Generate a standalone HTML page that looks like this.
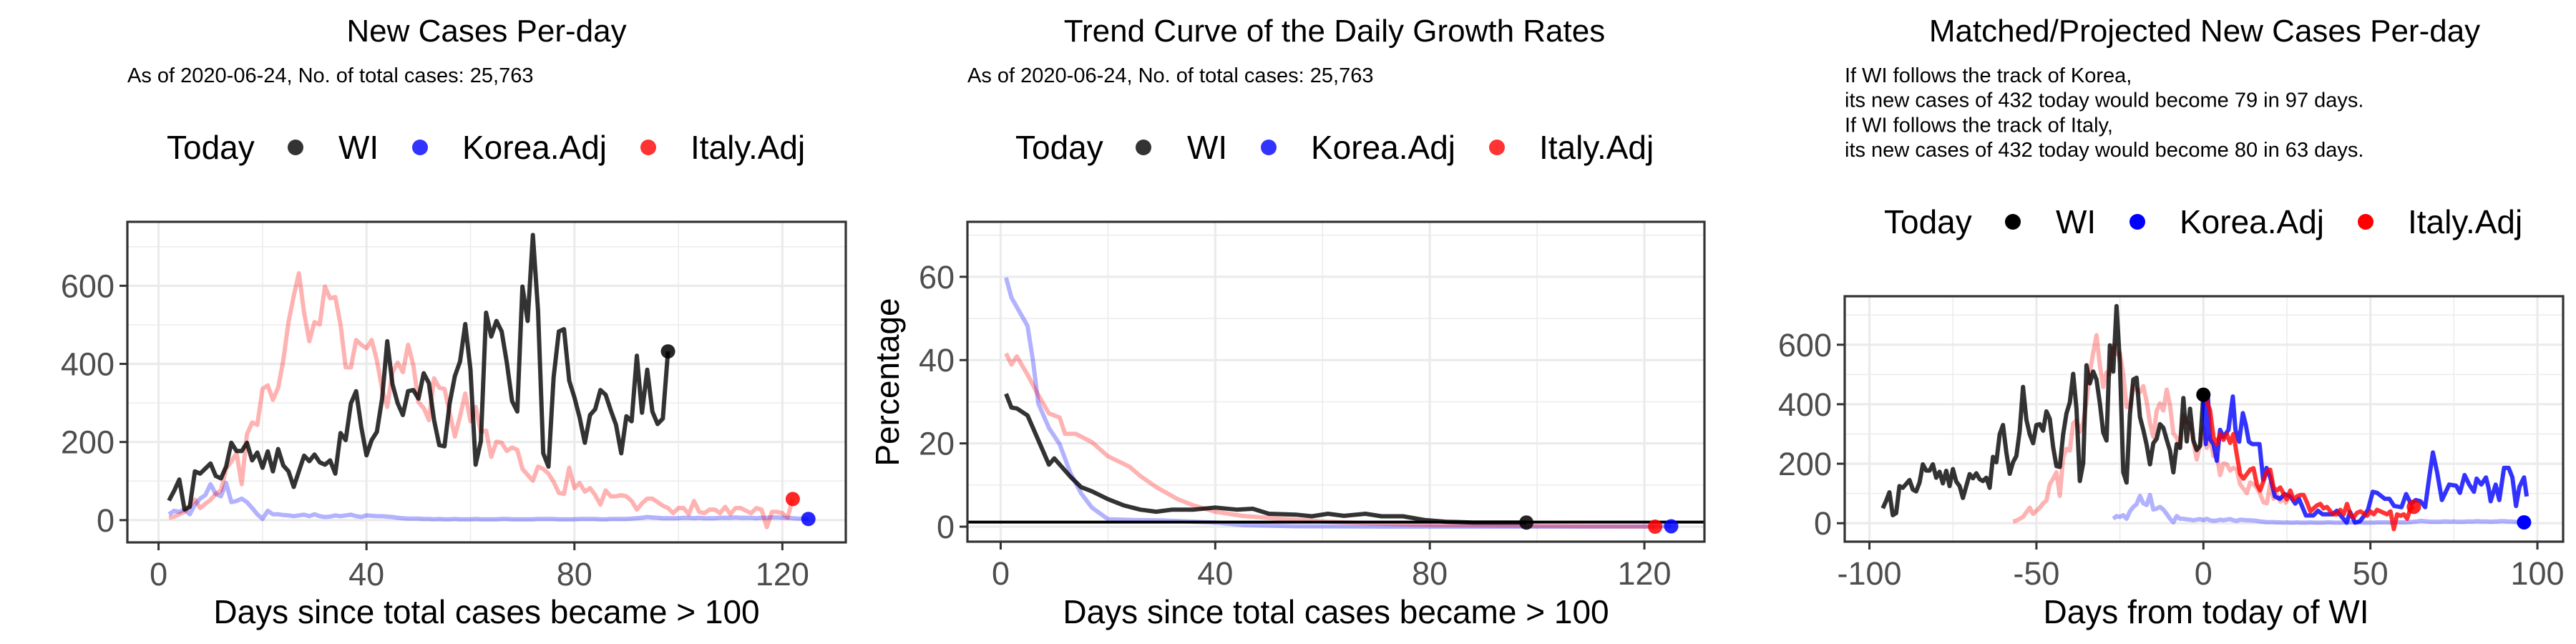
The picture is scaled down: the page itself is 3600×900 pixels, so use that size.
<!DOCTYPE html>
<html><head><meta charset="utf-8">
<style>
html,body{margin:0;padding:0;background:#fff;}
svg{display:block;font-family:"Liberation Sans",Arial,sans-serif;}
</style></head>
<body>
<svg id="chart" width="3600" height="900" viewBox="0 0 3600 900" xmlns="http://www.w3.org/2000/svg"></svg>
<script>
// ---------- DATA ----------
const wiStart = 2;
const wiCases = [50,75,104,27,34,125,119,132,145,113,107,137,198,177,177,198,153,173,134,176,125,182,140,125,85,125,165,151,168,148,142,153,119,223,205,299,330,238,166,205,226,311,458,348,299,269,330,333,311,376,351,256,192,189,299,369,406,502,385,142,202,531,470,510,483,403,305,278,598,510,730,537,171,137,366,483,489,357,314,263,198,269,284,333,321,281,244,171,266,253,421,275,385,278,246,260,432];
const italyStart = 2;
const italyCases = [6,9,15,21,37,52,31,42,52,67,76,131,150,171,92,220,250,244,336,345,308,339,409,507,574,632,531,458,507,501,598,568,571,501,391,391,461,449,440,461,409,336,290,379,403,379,449,397,302,287,256,363,339,336,275,214,266,324,253,290,226,229,162,201,198,177,186,180,131,116,101,137,131,119,98,70,67,134,82,95,73,82,64,40,76,61,61,64,61,49,27,43,55,55,46,37,31,18,31,31,15,49,21,18,27,27,18,34,15,31,31,24,18,31,27,-18,21,21,18,6,54];
const koreaStart = 2;
const koreaCases = [15,24,21,27,15,40,55,64,92,67,61,95,46,49,55,46,31,15,3,24,15,15,13,12,10,12,14,10,15,10,8,9,12,10,12,14,10,8,12,11,10,10,9,8,6,5,4,4,4,
3,3,2,3,2,2,3,2,2,2,3,2,2,2,2,3,3,2,2,2,2,2,3,3,3,3,2,2,2,2,3,3,3,3,2,2,3,3,3,3,
4,5,6,8,7,6,5,5,5,5,6,6,5,6,5,5,5,6,6,6,7,6,6,6,5,6,6,7,7,6,6,5,4,4,3];

const wiRateDays = [1,2,3,5,7,9,10,13,15,17,20,23,26,29,32,36,40,44,47,50,55,58,61,64,68,71,75,79,83,88,93,98];
const wiRate = [31.9,28.6,28.4,26.7,20.8,14.9,16.4,12,9.5,8.5,6.6,5.1,4.1,3.6,4.1,4.1,4.6,4.1,4.3,3.1,2.9,2.5,3.1,2.6,3.1,2.5,2.5,1.6,1.2,1.0,1.0,1.0];
const koreaRateDays = [1,2,5,6,7,9,11,13,15,17,20,25,30,40,45,55,70,90,110,125];
const koreaRate = [59.8,55,48.2,40,29.6,23.7,19.8,12.9,8,4.6,1.8,1.6,1.5,1.0,0.4,0.1,0,0,0,0.1];
const italyRateDays = [1,2,3,5,7,9,11,12,14,17,20,24,26,29,33,36,40,45,51,61,71,81,97,122];
const italyRate = [41.6,38.9,40.9,36.5,31.6,27.2,26.2,22.3,22.3,20.3,16.9,14.4,12.2,9.5,6.6,5.1,3.6,2.6,2.0,1.2,0.7,0.4,0.2,0];
const refLine = 1.1;

const wiShift = -98, italyShift = -59, koreaShift = -29, italyLightEndDay = 84;
const redProjX = [0,1,2,3,4,5,6,7,8,9,10,11,12,14,15,16,17,19,20,21,22,23,25,26,27,28,29,30,31,32,34,35,36,37,38,39,40,41,42,43,44,45,46,47,49,50,51,52,53,54,55,56,57,58,59,60,61,62,63];
const redProj = [432,410,380,290,265,300,280,300,270,300,230,165,150,180,185,130,110,175,180,120,110,120,80,110,80,90,95,95,70,40,60,65,50,55,40,30,30,45,30,65,30,20,35,40,25,40,30,45,40,35,30,40,-20,30,25,30,15,50,55];
const blueProjX = [0,0.7,1.4,2,3,4,5,6,7.5,8.8,9.6,10.7,11.8,12.7,13.6,14.6,16.8,17.9,18.9,20,21.4,22.9,24.3,26,27.5,28.6,30.7,32.9,34.3,35.7,38.6,40,41.4,42.9,43.9,45.4,46.8,48.2,49.3,50.7,52,54.3,55.7,57.1,59.3,60.7,62.1,63.6,65,66.4,67.5,68.7,70,71.4,73.6,75.7,76.8,78.2,79.6,81,81.8,83.2,84.6,85.4,86,87.5,88.6,90,91.4,92.5,93.6,94.6,96,96.8];
const blueProj = [432,266,418,282,266,210,314,290,314,426,314,274,370,330,274,266,266,146,186,154,90,82,98,90,66,82,26,26,42,30,30,42,22,2,38,2,6,26,46,106,102,82,82,58,54,98,66,78,74,54,146,238,170,78,130,126,102,162,130,106,150,130,154,118,74,130,78,186,186,154,58,122,154,90];

const legendLabels = ["WI","Korea.Adj","Italy.Adj"];
const p1Yticks=[0,200,400,600], p1Xticks=[0,40,80,120];
const p2Yticks=[0,20,40,60], p2Xticks=[0,40,80,120];
const p3Yticks=[0,200,400,600], p3Xticks=[-100,-50,0,50,100];

// ---------- HELPERS ----------
const NS="http://www.w3.org/2000/svg";
const svg=document.getElementById('chart');
function el(tag,attrs,parent){const e=document.createElementNS(NS,tag);for(const k in attrs)e.setAttribute(k,attrs[k]);(parent||svg).appendChild(e);return e;}
function txt(s,attrs,parent){const e=el('text',attrs,parent);e.textContent=s;return e;}

function makePanel(o){
  const g=el('g',{});
  
  
  const sx=v=>o.x0+(v-o.xmin)*(o.x1-o.x0)/(o.xmax-o.xmin);
  const sy=v=>o.y1-(v-o.ymin)*(o.y1-o.y0)/(o.ymax-o.ymin);
  const grid=el('g',{},g);
  
  
  o.yminor.forEach(v=>el('line',{x1:o.x0,x2:o.x1,y1:sy(v),y2:sy(v),stroke:'#ebebeb','stroke-width':1.5},grid));
  o.xminor.forEach(v=>el('line',{x1:sx(v),x2:sx(v),y1:o.y0,y2:o.y1,stroke:'#ebebeb','stroke-width':1.5},grid));
  o.yticks.forEach(v=>el('line',{x1:o.x0,x2:o.x1,y1:sy(v),y2:sy(v),stroke:'#ebebeb','stroke-width':3.2},grid));
  o.xticks.forEach(v=>el('line',{x1:sx(v),x2:sx(v),y1:o.y0,y2:o.y1,stroke:'#ebebeb','stroke-width':3.2},grid));
  o.sx=sx;o.sy=sy;o.g=g;
  return o;
}
function finishPanel(o){
  const g=o.g;
  const b=el('rect',{x:o.x0,y:o.y0,width:o.x1-o.x0,height:o.y1-o.y0,fill:'none',stroke:'#333','stroke-width':3.2},g);
  
  
  o.yticks.forEach(v=>{
    el('line',{x1:o.x0-11,x2:o.x0,y1:o.sy(v),y2:o.sy(v),stroke:'#333','stroke-width':3},g);
    const t=txt(String(v),{x:o.x0-18,y:o.sy(v)+16,'text-anchor':'end','font-size':45,fill:'#4d4d4d'},g);
    
    
  });
  o.xticks.forEach(v=>{
    el('line',{x1:o.sx(v),x2:o.sx(v),y1:o.y1,y2:o.y1+11,stroke:'#333','stroke-width':3},g);
    const t=txt(String(v),{x:o.sx(v),y:o.y1+60,'text-anchor':'middle','font-size':45,fill:'#4d4d4d'},g);
    
    
  });
}
function line(o,xs,ys,color,w,name){
  const pts=xs.map((x,i)=>o.sx(x).toFixed(1)+','+o.sy(ys[i]).toFixed(1)).join(' ');
  const p=el('polyline',{points:pts,fill:'none',stroke:color,'stroke-width':w,'stroke-linejoin':'round','stroke-linecap':'butt'},o.g);
  
  
}
function seq(start,n,shift){const a=[];for(let i=0;i<n;i++)a.push(start+i+(shift||0));return a;}
function dot(o,x,y,color,name){
  const c=el('circle',{cx:o.sx(x),cy:o.sy(y),r:10,fill:color},o.g);
  
  
}
function legend(x,y,pos,cols,name){
  const g=el('g',{});
  
  
  const t=txt('Today',{x:x,y:y,'font-size':46,fill:'#000'},g);
  
  
  legendLabels.forEach((lab,i)=>{
    const c=el('circle',{cx:pos[i][0],cy:y-16,r:11,fill:cols[i]},g);
    
    
    const l=txt(lab,{x:pos[i][1],y:y,'font-size':46,fill:'#000'},g);
    
    
  });
}
function title(s,x,y,size,anchor,name){
  const t=txt(s,{x:x,y:y,'font-size':size,'text-anchor':anchor,fill:'#000'});
  
  
  return t;
}

const BLK='rgba(0,0,0,0.8)', LBLUE='rgba(0,0,255,0.3)', LRED='rgba(255,0,0,0.3)';
const LW=6;

// ---------- PANEL 1 ----------
title('New Cases Per-day',680,58,44,'middle','panel1-title');
title('As of 2020-06-24, No. of total cases: 25,763',178,115,29,'start','panel1-subtitle');
legend(233,222,[[413,473],[587,646],[906,965]],['rgba(0,0,0,0.8)','rgba(0,0,255,0.8)','rgba(255,0,0,0.8)'],'panel1-legend');
const p1=makePanel({name:'panel1-new-cases',x0:178,x1:1182,y0:310,y1:758,xmin:-6,xmax:132.2,ymin:-57,ymax:763.7,
  yticks:p1Yticks,xticks:p1Xticks,yminor:[100,300,500,700],xminor:[20,60,100]});
line(p1,seq(koreaStart,koreaCases.length),koreaCases,LBLUE,LW,'korea-line');
line(p1,seq(italyStart,italyCases.length),italyCases,LRED,LW,'italy-line');
line(p1,seq(wiStart,wiCases.length),wiCases,BLK,LW,'wi-line');
dot(p1,wiStart+wiCases.length-1,wiCases[wiCases.length-1],'rgba(0,0,0,0.85)','wi-today-point');
dot(p1,italyStart+italyCases.length-1,italyCases[italyCases.length-1],'rgba(255,0,0,0.85)','italy-today-point');
dot(p1,koreaStart+koreaCases.length-1,koreaCases[koreaCases.length-1],'rgba(0,0,255,0.85)','korea-today-point');
finishPanel(p1);
title('Days since total cases became > 100',680,871,46,'middle','panel1-x-axis-title');

// ---------- PANEL 2 ----------
title('Trend Curve of the Daily Growth Rates',1865,58,44,'middle','panel2-title');
title('As of 2020-06-24, No. of total cases: 25,763',1352,115,29,'start','panel2-subtitle');
legend(1419,222,[[1598,1659],[1773,1832],[2092,2151]],['rgba(0,0,0,0.8)','rgba(0,0,255,0.8)','rgba(255,0,0,0.8)'],'panel2-legend');
const p2=makePanel({name:'panel2-growth-rates',x0:1352,x1:2382,y0:310,y1:757,xmin:-6.2,xmax:131.2,ymin:-3.6,ymax:73.2,
  yticks:p2Yticks,xticks:p2Xticks,yminor:[10,30,50,70],xminor:[20,60,100]});
line(p2,koreaRateDays,koreaRate,LBLUE,LW,'korea-rate-line');
line(p2,italyRateDays,italyRate,LRED,LW,'italy-rate-line');
line(p2,wiRateDays,wiRate,BLK,LW,'wi-rate-line');
const hl=el('line',{x1:1352,x2:2382,y1:p2.sy(refLine),y2:p2.sy(refLine),stroke:'#000','stroke-width':4},p2.g);


dot(p2,wiRateDays[wiRateDays.length-1],wiRate[wiRate.length-1],'rgba(0,0,0,0.85)','wi-rate-today-point');
dot(p2,italyRateDays[italyRateDays.length-1],italyRate[italyRate.length-1],'rgba(255,0,0,0.85)','italy-rate-today-point');
dot(p2,koreaRateDays[koreaRateDays.length-1],koreaRate[koreaRate.length-1],'rgba(0,0,255,0.85)','korea-rate-today-point');
finishPanel(p2);
title('Days since total cases became > 100',1867,871,46,'middle','panel2-x-axis-title');
const yt=txt('Percentage',{x:0,y:0,'font-size':46,'text-anchor':'middle',transform:'translate(1256,534) rotate(-90)',fill:'#000'});



// ---------- PANEL 3 ----------
title('Matched/Projected New Cases Per-day',3081,58,44,'middle','panel3-title');
['If WI follows the track of Korea,','its new cases of 432 today would become 79 in 97 days.','If WI follows the track of Italy,','its new cases of 432 today would become 80 in 63 days.'].forEach((s,i)=>{
  title(s,2578,115+i*34.7,29,'start','panel3-note-line-'+(i+1));
});
legend(2633,326,[[2813,2873],[2987,3046],[3306,3365]],['#000','#0000ff','#ff0000'],'panel3-legend');
const p3=makePanel({name:'panel3-projected',x0:2578,x1:3582,y0:414,y1:757,xmin:-107.4,xmax:107.7,ymin:-62,ymax:763,
  yticks:p3Yticks,xticks:p3Xticks,yminor:[100,300,500,700],xminor:[-75,-25,25,75]});
line(p3,seq(koreaStart,koreaCases.length,koreaShift),koreaCases,LBLUE,LW,'korea-matched-line');
const nItalyLight=italyLightEndDay-italyStart+1;
line(p3,seq(italyStart,nItalyLight,italyShift),italyCases.slice(0,nItalyLight),LRED,LW,'italy-matched-line');
line(p3,seq(wiStart,wiCases.length,wiShift),wiCases,BLK,LW,'wi-history-line');
line(p3,blueProjX,blueProj,'rgba(0,0,255,0.8)',LW,'korea-projection-line');
line(p3,redProjX,redProj,'rgba(255,0,0,0.8)',LW,'italy-projection-line');
dot(p3,redProjX[redProjX.length-1],redProj[redProj.length-1],'rgba(255,0,0,0.85)','italy-projection-end-point');
dot(p3,0,wiCases[wiCases.length-1],'#000','wi-today-point-p3');
dot(p3,koreaStart+koreaCases.length-1+koreaShift,koreaCases[koreaCases.length-1],'#0000ff','korea-projection-end-point');
finishPanel(p3);
title('Days from today of WI',3083,871,46,'middle','panel3-x-axis-title');
</script>
</body></html>
